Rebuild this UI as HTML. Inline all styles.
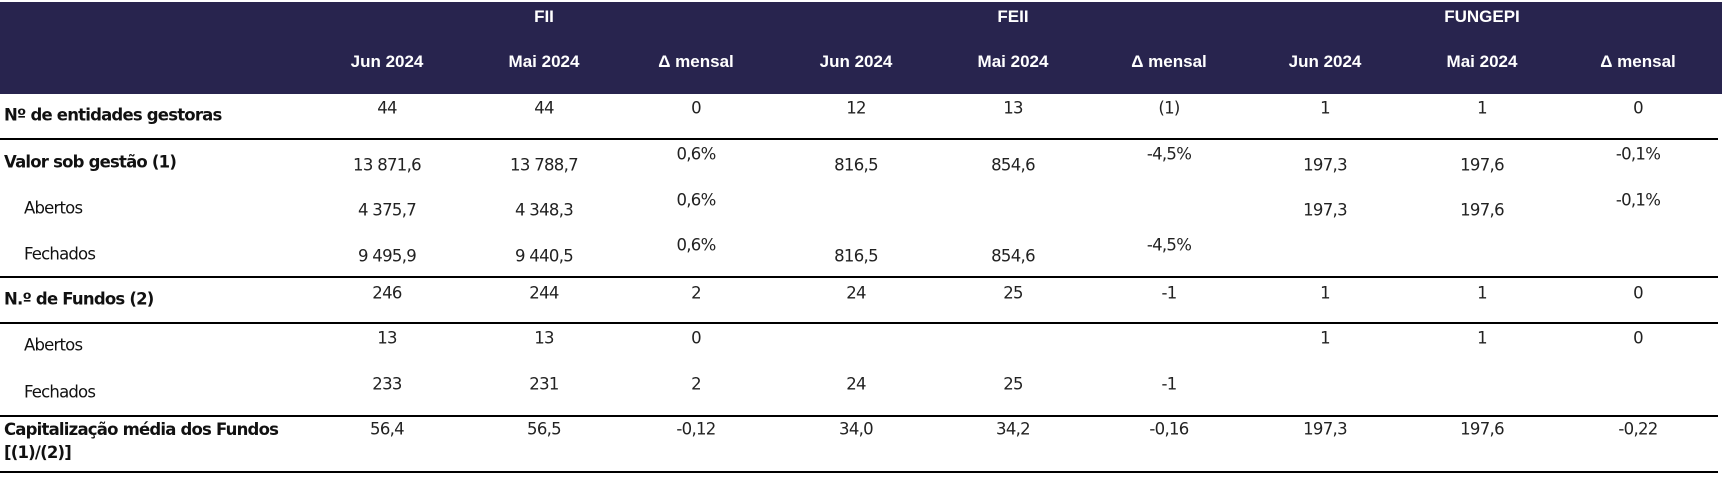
<!DOCTYPE html>
<html><head><meta charset="utf-8"><style>
body{margin:0;width:1722px;height:480px;background:#fff;position:relative;overflow:hidden;font-family:"Liberation Sans",sans-serif;color:#111}
.hdr{position:absolute;left:0;top:2px;width:1722px;height:92px;background:#28244e}
.h{position:absolute;color:#fff;font-weight:bold;font-size:17px;transform:translate(-50%,-50%);white-space:nowrap}
.line{position:absolute;left:0;width:1718px;height:2px;background:#000}
.lab{position:absolute;left:4px;font-size:16.5px;transform:translateY(-50%);white-space:nowrap;font-family:"DejaVu Sans","Liberation Sans",sans-serif;letter-spacing:-0.8px}
.b{font-weight:bold}
.v{position:absolute;font-size:16.5px;transform:translate(-50%,-50%);white-space:nowrap;font-family:"DejaVu Sans","Liberation Sans",sans-serif;letter-spacing:-0.7px;color:#222}
</style></head><body>
<div class="hdr"></div>
<div id="root"></div>
<script>
const groups=["FII","FEII","FUNGEPI"];
const subheads=["Jun 2024","Mai 2024","Δ mensal"];
const colX=[387,544,696,856,1013,1169,1325,1482,1638];
const labels=[
 ["Nº de entidades gestoras",true,115],
 ["Valor sob gestão (1)",true,162],
 ["Abertos",false,208],
 ["Fechados",false,254],
 ["N.º de Fundos (2)",true,299],
 ["Abertos",false,345],
 ["Fechados",false,392],
];
const rowValues=[
 ["44","44","0","12","13","(1)","1","1","0"],
 ["13 871,6","13 788,7","0,6%","816,5","854,6","-4,5%","197,3","197,6","-0,1%"],
 ["4 375,7","4 348,3","0,6%","","","","197,3","197,6","-0,1%"],
 ["9 495,9","9 440,5","0,6%","816,5","854,6","-4,5%","","",""],
 ["246","244","2","24","25","-1","1","1","0"],
 ["13","13","0","","","","1","1","0"],
 ["233","231","2","24","25","-1","","",""],
 ["56,4","56,5","-0,12","34,0","34,2","-0,16","197,3","197,6","-0,22"],
];
const valY=[108,165,210,256,293,338,384,429];
const deltaY=[108,154,200,245,293,338,384,429];
const lineY=[139,277,323,416,472];
const root=document.getElementById('root');
groups.forEach((g,i)=>{const d=document.createElement('div');d.className='h';d.textContent=g;d.style.left=colX[i*3+1]+'px';d.style.top='17px';

root.appendChild(d);});
colX.forEach((x,i)=>{const d=document.createElement('div');d.className='h';d.textContent=subheads[i%3];d.style.left=x+'px';d.style.top='62px';

root.appendChild(d);});
lineY.forEach(y=>{const d=document.createElement('div');d.className='line';d.style.top=(y-1)+'px';

root.appendChild(d);});
labels.forEach(l=>{const d=document.createElement('div');d.className='lab'+(l[1]?' b':'');d.textContent=l[0];d.style.top=l[2]+'px';if(!l[1])d.style.left='24px';

root.appendChild(d);});
const cap=document.createElement('div');cap.className='lab b';cap.innerHTML='Capitalização média dos Fundos<br>[(1)/(2)]';cap.style.top='441px';cap.style.lineHeight='23px';

root.appendChild(cap);
rowValues.forEach((r,ri)=>r.forEach((v,ci)=>{if(!v)return;const d=document.createElement('div');d.className='v';d.textContent=v;d.style.left=colX[ci]+'px';d.style.top=((ci%3==2)?deltaY[ri]:valY[ri])+'px';

root.appendChild(d);}));
</script>
</body></html>
